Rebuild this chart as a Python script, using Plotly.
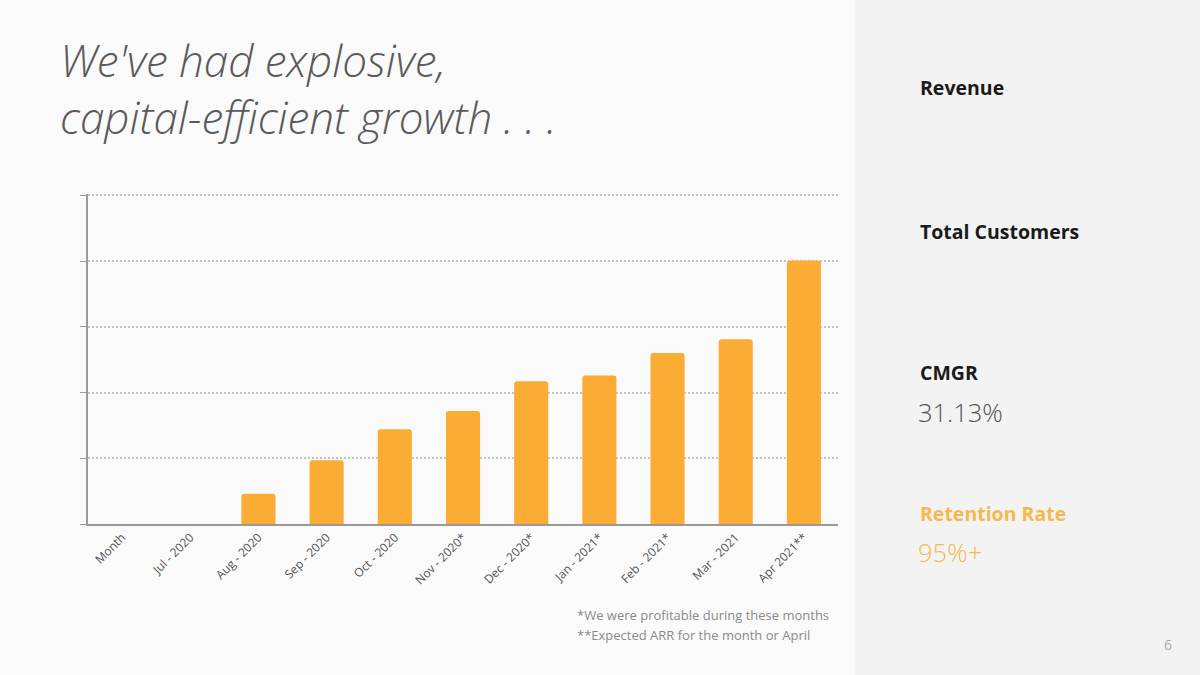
import plotly.graph_objects as go

months = ["Month", "Jul - 2020", "Aug - 2020", "Sep - 2020", "Oct - 2020",
          "Nov - 2020*", "Dec - 2020*", "Jan - 2021*", "Feb - 2021*",
          "Mar - 2021", "Apr 2021**"]
revenue = [None, None, 0.46, 0.97, 1.44, 1.72, 2.17, 2.26, 2.60, 2.81, 4.01]
y_grid = [0, 1, 2, 3, 4, 5]

BAR = "#FBAC34"
W, H = 1200, 675
YMAX = 5.02
L, R, B = 88, 838, 524
UNIT = 65.8
T = B - YMAX * UNIT


def px(x):
    return (x - L) / (R - L)


def py(y):
    return (B - y) / (B - T)


fig = go.Figure()
fig.add_trace(go.Bar(
    x=months, y=revenue,
    marker=dict(color=BAR, line=dict(width=0), cornerradius=3),
    width=0.5, hoverinfo="skip",
))

font_main = "Open Sans"

fig.update_layout(
    width=W, height=H,
    margin=dict(l=L, r=W - R, t=T, b=H - B),
    paper_bgcolor="#fafafa",
    plot_bgcolor="rgba(0,0,0,0)",
    showlegend=False,
    xaxis=dict(
        type="category", range=[-0.5, 10.5],
        tickangle=-45, tickfont=dict(family=font_main, size=12, color="#555"),
        showgrid=False, showline=True, linecolor="#9a9a9a", linewidth=1.5,
        ticks="", fixedrange=True,
    ),
    yaxis=dict(
        range=[0, YMAX], tickvals=y_grid, showticklabels=False,
        showgrid=True, gridcolor="#c4c4c4", griddash="1.5px,2.5px", gridwidth=1.5,
        showline=True, linecolor="#9a9a9a", linewidth=1.5,
        ticks="outside", ticklen=6, tickcolor="#9a9a9a",
        zeroline=False, fixedrange=True,
    ),
    shapes=[dict(
        type="rect", xref="paper", yref="paper",
        x0=px(855), x1=px(1205), y0=py(680), y1=py(-5),
        fillcolor="#f3f3f3", line=dict(width=0), layer="below",
    )],
)


def note(text, x, y, size, color, weight=400, style="normal", anchor="left"):
    fig.add_annotation(
        text=text, xref="paper", yref="paper", x=px(x), y=py(y),
        xanchor=anchor, yanchor="middle", showarrow=False, align="left",
        font=dict(family=font_main, size=size, color=color,
                  weight=weight, style=style),
    )


note("We've had explosive,<br>capital-efficient growth . . .", 58, 88, 44,
     "#5a5a5a", weight=300, style="italic")

note("*We were profitable during these months", 575, 615, 13, "#8a8a8a")
note("**Expected ARR for the month or April", 575, 635, 13, "#8a8a8a")

note("Revenue", 918, 87, 19.5, "#1a1a1a", weight=700)
note("Total Customers", 918, 231, 19.5, "#1a1a1a", weight=700)
note("CMGR", 918, 372, 19.5, "#1a1a1a", weight=700)
note("31.13%", 916, 412, 25.5, "#555555", weight=300)
note("Retention Rate", 918, 513, 19.5, "#F5B94C", weight=700)
note("95%+", 916, 552, 25.5, "#F5B94C", weight=300)
note("6", 1174, 645, 14, "#aaaaaa", anchor="right")

fig.write_html(
    "out.html",
    config={"displayModeBar": False},
    post_script="document.body.style.margin='0';document.body.style.overflow='hidden';",
)
